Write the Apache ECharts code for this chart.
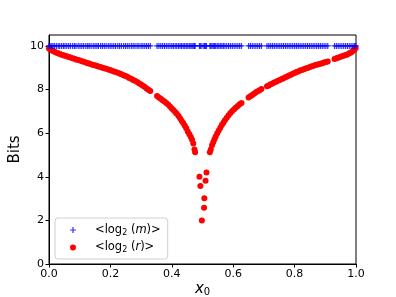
<!DOCTYPE html>
<html>
<head>
<meta charset="utf-8">
<script src="https://cdn.jsdelivr.net/npm/echarts@6/dist/echarts.min.js"></script>
<style>html,body{margin:0;padding:0;background:#fff}#c{width:396px;height:297px}</style>
</head>
<body>
<div id="c"></div>
<script>
// sampled starting points x0
const x0 = [0.000,0.004,0.009,0.013,0.018,0.024,0.030,0.035,0.041,0.047,0.052,0.058,0.064,0.070,0.077,0.083,0.088,0.095,0.101,0.107,0.113,0.120,0.126,0.131,0.137,0.144,0.150,0.156,0.161,0.168,0.174,0.180,0.186,0.193,0.199,0.205,0.211,0.217,0.224,0.230,0.236,0.243,0.249,0.255,0.261,0.268,0.274,0.280,0.287,0.293,0.300,0.306,0.312,0.318,0.324,0.330,
  0.352,0.358,0.364,0.370,0.376,0.382,0.388,0.394,0.400,0.405,0.411,0.416,0.422,0.427,0.432,0.437,0.442,0.447,0.452,0.457,0.462,0.466,0.470,0.474,0.476,
  0.490,0.493,0.498,0.505,0.506,0.510,0.513,
  0.524,0.527,0.531,0.535,0.539,0.543,0.548,0.553,0.558,0.563,0.568,0.573,0.579,0.585,0.591,0.597,0.603,0.609,0.615,0.621,0.627,
  0.650,0.656,0.662,0.668,0.674,0.680,0.686,0.692,
  0.710,0.716,0.722,0.728,0.734,0.740,0.746,0.752,0.758,0.764,0.770,0.776,0.782,0.788,0.794,0.800,0.806,0.812,0.818,0.824,0.830,0.836,0.842,0.848,0.854,0.860,0.866,0.872,0.878,0.884,0.890,0.896,0.902,0.908,
  0.930,0.936,0.942,0.948,0.954,0.960,0.966,0.972,0.978,0.984,0.990,0.995,0.999];
// <log2(r)> for each x0
const logR = [9.88,9.84,9.80,9.77,9.73,9.69,9.66,9.63,9.60,9.57,9.55,9.52,9.49,9.47,9.43,9.41,9.38,9.35,9.33,9.30,9.27,9.24,9.21,9.19,9.16,9.13,9.11,9.08,9.06,9.03,9.00,8.98,8.95,8.92,8.89,8.86,8.83,8.80,8.77,8.73,8.70,8.65,8.62,8.58,8.53,8.49,8.44,8.40,8.34,8.29,8.23,8.17,8.11,8.05,7.99,7.93,
  7.70,7.64,7.58,7.51,7.45,7.38,7.31,7.22,7.13,7.06,6.97,6.89,6.79,6.68,6.57,6.47,6.35,6.22,6.08,5.95,5.82,5.70,5.52,5.25,5.12,
  4.00,3.58,1.99,2.58,3.01,3.82,4.19,
  5.12,5.25,5.45,5.58,5.72,5.85,6.00,6.12,6.25,6.37,6.48,6.59,6.71,6.82,6.92,7.02,7.10,7.18,7.25,7.32,7.38,
  7.63,7.69,7.75,7.81,7.87,7.92,7.97,8.02,
  8.15,8.19,8.24,8.28,8.32,8.36,8.40,8.44,8.48,8.52,8.56,8.60,8.64,8.68,8.72,8.76,8.80,8.83,8.87,8.90,8.93,8.96,8.99,9.02,9.05,9.08,9.11,9.14,9.16,9.18,9.21,9.24,9.26,9.28,
  9.40,9.43,9.46,9.49,9.52,9.55,9.58,9.61,9.66,9.70,9.77,9.84,9.90];
// <log2(m)> is 10 at every x0
const logMValue = 10;
const xTicks = [0, 0.2, 0.4, 0.6, 0.8, 1.0];
const yTicks = [0, 2, 4, 6, 8, 10];

const mData = x0.map(x => [x, logMValue]);
const rData = x0.map((x, i) => [x, logR[i]]);

const FONT = 'DejaVu Sans';
const plusPath = 'path://M4,0H6V4H10V6H6V10H4V6H0V4H4Z';

const chart = echarts.init(document.getElementById('c'), null, {renderer: 'canvas'});
chart.setOption({
  animation: false,
  backgroundColor: '#fff',
  grid: {left: 49, right: 40, top: 35, bottom: 33, containLabel: false, outerBoundsMode: 'none',
    show: true, borderColor: '#000', borderWidth: 1, backgroundColor: 'transparent'},
  xAxis: {
    type: 'value', min: 0, max: 1, interval: 0.2,
    name: '{i|x}{s|0}', nameLocation: 'middle', nameGap: 17, nameMoveOverlap: false,
    nameTextStyle: {fontFamily: FONT, fontSize: 15, color: '#000',
      rich: {i: {fontFamily: FONT, fontSize: 15, fontStyle: 'italic', color: '#000'},
             s: {fontFamily: FONT, fontSize: 10, color: '#000', padding: [6, 0, 0, 0]}}},
    axisLine: {show: true, onZero: false, lineStyle: {color: '#000', width: 1}},
    axisTick: {show: true, length: 3.5, lineStyle: {color: '#000'}, customValues: xTicks},
    axisLabel: {fontFamily: FONT, fontSize: 11, color: '#000', margin: 5, customValues: xTicks,
      formatter: v => v.toFixed(1)},
    splitLine: {show: false}
  },
  yAxis: {
    type: 'value', min: 0, max: 10.5, interval: 2,
    name: 'Bits', nameLocation: 'middle', nameGap: 26, nameMoveOverlap: false,
    nameTextStyle: {fontFamily: FONT, fontSize: 15, color: '#000'},
    axisLine: {show: true, onZero: false, lineStyle: {color: '#000', width: 1}},
    axisTick: {show: true, length: 3.5, lineStyle: {color: '#000'}, customValues: yTicks},
    axisLabel: {fontFamily: FONT, fontSize: 11, color: '#000', margin: 5, customValues: yTicks},
    splitLine: {show: false}
  },
  legend: {
    orient: 'vertical', left: 55, top: 218,
    backgroundColor: '#fff',
    borderColor: '#d0d0d0', borderWidth: 1, borderRadius: 3,
    padding: [6, 7, 5, 15], itemGap: 5, itemWidth: 6, itemHeight: 6,
    textStyle: {fontFamily: FONT, fontSize: 11.5, color: '#000', padding: [0, 0, 0, 14],
      rich: {s: {fontFamily: FONT, fontSize: 8, color: '#000', padding: [5, 0, 0, 0]},
             i: {fontFamily: FONT, fontSize: 11.5, fontStyle: 'italic', color: '#000'}}},
    formatter: n => n === 'm' ? '<log{s|2} ({i|m})>' : '<log{s|2} ({i|r})>',
    data: [{name: 'm', icon: plusPath}, {name: 'r', icon: 'circle'}]
  },
  series: [
    {name: 'm', type: 'scatter', data: mData, symbol: plusPath, symbolSize: 6,
     itemStyle: {color: '#0000ff'}, z: 3},
    {name: 'r', type: 'scatter', data: rData, symbol: 'circle', symbolSize: 6,
     itemStyle: {color: '#ff0000', opacity: 1}, z: 2}
  ]
});
</script>
</body>
</html>
